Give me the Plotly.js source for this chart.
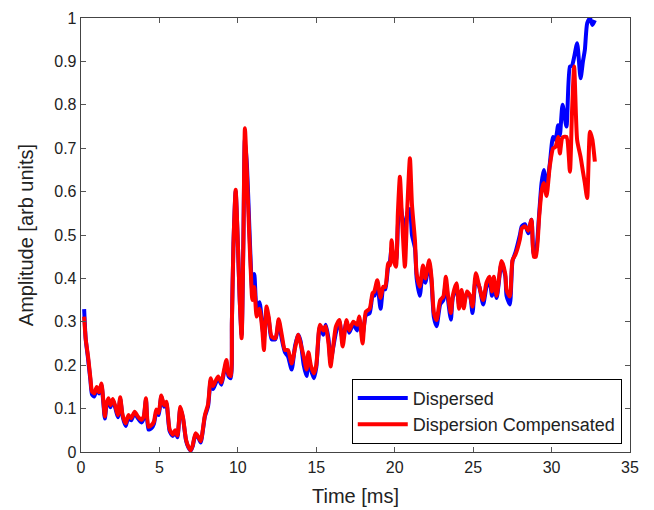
<!DOCTYPE html>
<html>
<head>
<meta charset="utf-8">
<script src="https://cdn.plot.ly/plotly-3.0.1.min.js"></script>
<style>html,body{margin:0;padding:0;background:#fff;}#chart{width:654px;height:510px;}</style>
</head>
<body>
<div id="chart"></div>
<script>
const time = [0.2,0.3,0.45,0.6,0.7,0.85,1.0,1.15,1.3,1.42,1.52,1.62,1.75,1.88,2.03,2.2,2.35,2.5,2.65,2.85,3.02,3.2,3.42,3.6,3.85,4.0,4.14,4.3,4.5,4.65,4.8,4.95,5.12,5.3,5.44,5.65,5.85,6.0,6.15,6.33,6.5,6.7,6.85,7.0,7.12,7.3,7.48,7.63,7.9,8.1,8.27,8.42,8.6,8.75,8.95,9.1,9.27,9.4,9.55,9.62,9.72,9.86,10.0,10.12,10.24,10.35,10.45,10.58,10.73,10.85,10.92,11.05,11.2,11.38,11.56,11.66,11.83,11.97,12.15,12.4,12.6,12.8,13.0,13.2,13.43,13.65,13.85,14.0,14.2,14.38,14.5,14.65,14.85,15.0,15.23,15.45,15.6,15.78,15.91,16.1,16.25,16.47,16.68,16.93,17.1,17.36,17.6,17.74,17.95,18.16,18.4,18.59,18.7,18.89,19.1,19.27,19.4,19.59,19.7,19.8,19.95,20.08,20.2,20.33,20.45,20.65,20.8,20.97,21.1,21.29,21.4,21.6,21.8,21.95,22.2,22.35,22.5,22.67,22.9,23.1,23.26,23.4,23.58,23.7,23.94,24.1,24.26,24.4,24.6,24.8,24.96,25.17,25.4,25.64,25.85,26.05,26.2,26.32,26.5,26.81,27.05,27.13,27.34,27.51,27.7,27.98,28.1,28.3,28.51,28.72,28.87,29.0,29.21,29.36,29.5,29.68,29.89,30.1,30.25,30.42,30.53,30.7,30.95,31.17,31.3,31.44,31.63,31.85,32.0,32.12,32.27,32.45,32.6,32.76];

const compensated = [0.312,0.26,0.22,0.17,0.14,0.135,0.15,0.138,0.158,0.12,0.082,0.11,0.124,0.108,0.122,0.104,0.085,0.126,0.085,0.066,0.085,0.078,0.093,0.083,0.074,0.082,0.124,0.058,0.062,0.07,0.098,0.09,0.13,0.108,0.116,0.052,0.04,0.05,0.038,0.104,0.08,0.028,0.012,0.004,0.015,0.043,0.035,0.025,0.085,0.11,0.17,0.152,0.165,0.174,0.16,0.185,0.212,0.18,0.175,0.3,0.48,0.604,0.48,0.35,0.262,0.48,0.746,0.64,0.496,0.395,0.35,0.38,0.312,0.33,0.281,0.235,0.335,0.31,0.266,0.262,0.306,0.27,0.235,0.235,0.204,0.24,0.27,0.25,0.22,0.19,0.23,0.2,0.181,0.2,0.293,0.28,0.29,0.25,0.197,0.25,0.289,0.304,0.243,0.304,0.28,0.3,0.293,0.312,0.25,0.323,0.33,0.366,0.37,0.396,0.355,0.381,0.38,0.435,0.43,0.488,0.44,0.427,0.55,0.634,0.55,0.427,0.56,0.677,0.57,0.488,0.41,0.381,0.43,0.4,0.442,0.4,0.32,0.304,0.35,0.358,0.404,0.36,0.32,0.36,0.389,0.33,0.373,0.331,0.37,0.36,0.335,0.412,0.38,0.35,0.39,0.404,0.37,0.404,0.36,0.44,0.41,0.373,0.358,0.442,0.455,0.49,0.515,0.52,0.51,0.535,0.45,0.45,0.542,0.6,0.62,0.59,0.66,0.7,0.703,0.726,0.688,0.725,0.726,0.646,0.78,0.888,0.719,0.68,0.646,0.62,0.585,0.738,0.72,0.669];

const dispersed = [0.329,0.26,0.215,0.165,0.133,0.128,0.145,0.135,0.155,0.115,0.077,0.105,0.12,0.103,0.12,0.1,0.08,0.122,0.082,0.06,0.08,0.073,0.09,0.079,0.068,0.078,0.12,0.052,0.055,0.065,0.09,0.085,0.128,0.104,0.112,0.048,0.037,0.048,0.034,0.1,0.078,0.026,0.01,0.003,0.013,0.04,0.033,0.022,0.082,0.105,0.165,0.145,0.16,0.17,0.155,0.18,0.205,0.175,0.17,0.3,0.48,0.6,0.48,0.35,0.27,0.48,0.72,0.66,0.52,0.41,0.37,0.41,0.33,0.345,0.29,0.26,0.325,0.305,0.26,0.26,0.3,0.26,0.23,0.22,0.19,0.245,0.27,0.255,0.2,0.175,0.215,0.19,0.17,0.195,0.29,0.27,0.293,0.26,0.21,0.245,0.275,0.3,0.26,0.3,0.275,0.295,0.28,0.305,0.27,0.315,0.32,0.36,0.36,0.385,0.33,0.375,0.375,0.43,0.44,0.47,0.445,0.44,0.52,0.58,0.55,0.5,0.55,0.56,0.5,0.47,0.4,0.36,0.42,0.39,0.435,0.39,0.31,0.29,0.34,0.35,0.39,0.35,0.305,0.355,0.38,0.34,0.37,0.345,0.365,0.36,0.32,0.4,0.38,0.34,0.38,0.395,0.36,0.39,0.355,0.435,0.405,0.36,0.34,0.44,0.46,0.5,0.52,0.525,0.504,0.535,0.455,0.46,0.55,0.619,0.65,0.61,0.665,0.726,0.72,0.753,0.73,0.8,0.75,0.888,0.89,0.91,0.942,0.861,0.9,0.926,0.988,1.0,0.984,0.995];

const seriesNames = ['Dispersed', 'Dispersion Compensated'];
const xTicks = [0,5,10,15,20,25,30,35];
const yTicks = [0,0.1,0.2,0.3,0.4,0.5,0.6,0.7,0.8,0.9,1];
const yTickText = ['0','0.1','0.2','0.3','0.4','0.5','0.6','0.7','0.8','0.9','1'];

const font = 'Liberation Sans, Arial, sans-serif';

const traces = [
  {x: time, y: dispersed, name: seriesNames[0], type: 'scatter', mode: 'lines',
   line: {color: '#0000ff', width: 4, shape: 'spline', smoothing: 0.6}},
  {x: time, y: compensated, name: seriesNames[1], type: 'scatter', mode: 'lines',
   line: {color: '#ff0000', width: 4, shape: 'spline', smoothing: 0.6}}
];

const axisCommon = {
  showgrid: false, zeroline: false, showline: true, mirror: 'ticks',
  linecolor: '#444', linewidth: 1.3, ticks: 'inside', ticklen: 5, tickcolor: '#555',
  tickfont: {family: font, size: 16, color: '#222'}
};

const layout = {
  width: 654, height: 510,
  margin: {l: 81, r: 24, t: 18, b: 58},
  paper_bgcolor: '#fff', plot_bgcolor: '#fff',
  showlegend: true,
  legend: {x: 0.985, y: 0.019, xanchor: 'right', yanchor: 'bottom',
    bgcolor: '#fff', bordercolor: '#000', borderwidth: 1,
    font: {family: font, size: 18, color: '#222'}, itemwidth: 50,
    tracegroupgap: 0},
  xaxis: Object.assign({}, axisCommon, {
    range: [0, 35], tickvals: xTicks, ticktext: xTicks.map(String),
    title: {text: 'Time [ms]', font: {family: font, size: 20, color: '#222'}, standoff: 14}
  }),
  yaxis: Object.assign({}, axisCommon, {
    range: [0, 1], tickvals: yTicks, ticktext: yTickText,
    title: {text: 'Amplitude [arb units]', font: {family: font, size: 20, color: '#222'}, standoff: 15}
  })
};

Plotly.newPlot('chart', traces, layout, {displayModeBar: false, staticPlot: true});
</script>
</body>
</html>
